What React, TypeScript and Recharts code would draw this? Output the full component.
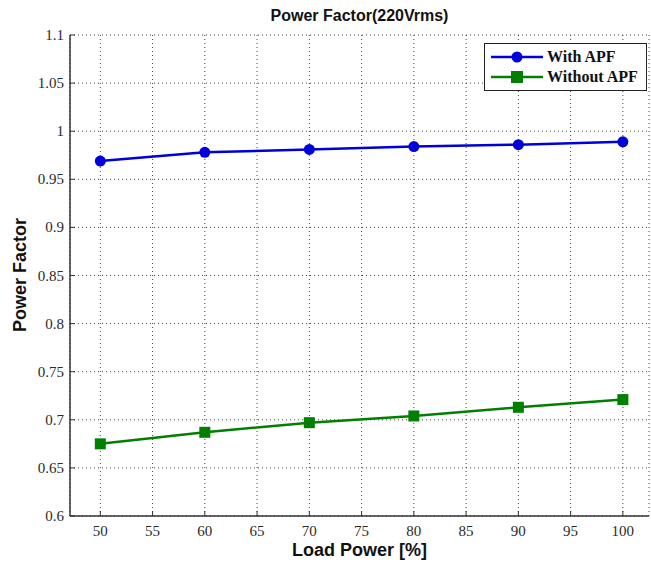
import { LineChart, Line, XAxis, YAxis, CartesianGrid } from 'recharts';

const loadPower = [50, 60, 70, 80, 90, 100];
const withApf = [0.969, 0.978, 0.981, 0.984, 0.986, 0.989];
const withoutApf = [0.675, 0.687, 0.697, 0.704, 0.713, 0.721];
const xTicks = [50, 55, 60, 65, 70, 75, 80, 85, 90, 95, 100];
const yTicks = [0.6, 0.65, 0.7, 0.75, 0.8, 0.85, 0.9, 0.95, 1, 1.05, 1.1];

const data = loadPower.map((p, i) => ({ p, withApf: withApf[i], withoutApf: withoutApf[i] }));

const BLUE = '#0000D8';
const GREEN = '#007F00';
const AXIS = '#333';
const serif = '"Liberation Serif", "Times New Roman", serif';
const sans = '"Liberation Sans", Arial, sans-serif';

const fmt = (v: number) => String(parseFloat(v.toFixed(2)));

const bottomTick = ({ x, y, payload }: any) => (
  <g>
    <line x1={x} x2={x} y1={y} y2={y - 5} stroke={AXIS} strokeWidth={1} />
    <text x={x} y={y + 20} textAnchor="middle" fontFamily="Liberation Serif" fontSize={15} fill="#2a2a2a">{payload.value}</text>
  </g>
);

const topTick = ({ x, y }: any) => (
  <line x1={x} x2={x} y1={y} y2={y + 5} stroke={AXIS} strokeWidth={1} />
);

const leftTick = ({ x, y, payload }: any) => (
  <g>
    <line x1={x} x2={x + 5} y1={y} y2={y} stroke={AXIS} strokeWidth={1} />
    <text x={x - 6} y={y + 5} textAnchor="end" fontFamily="Liberation Serif" fontSize={15} fill="#2a2a2a">{fmt(payload.value)}</text>
  </g>
);

const rightTick = ({ x, y }: any) => (
  <line x1={x} x2={x - 5} y1={y} y2={y} stroke={AXIS} strokeWidth={1} />
);

function SquareDot({ cx, cy }: any) {
  return <rect x={cx - 5.5} y={cy - 5.5} width={11} height={11} fill={GREEN} />;
}

function LegendBox() {
  const rows = [
    { label: 'With APF', color: BLUE, square: false },
    { label: 'Without APF', color: GREEN, square: true },
  ];
  return (
    <div style={{ position: 'absolute', left: 484, top: 43, border: '1px solid #222', background: '#fff', width: 163, height: 48, boxSizing: 'border-box', paddingTop: 3 }}>
      {rows.map(r => (
        <div key={r.label} style={{ display: 'flex', alignItems: 'center', height: 20 }}>
          <svg width={56} height={20} style={{ marginLeft: 4 }}>
            <line x1={2} x2={54} y1={10} y2={10} stroke={r.color} strokeWidth={2.5} />
            {r.square
              ? <rect x={22} y={4} width={12} height={12} fill={r.color} />
              : <circle cx={28} cy={10} r={5.5} fill={r.color} />}
          </svg>
          <span style={{ fontFamily: serif, fontWeight: 700, fontSize: 16, color: '#111', marginLeft: 2 }}>{r.label}</span>
        </div>
      ))}
    </div>
  );
}

export default function App() {
  return (
    <div style={{ position: 'relative', width: 651, height: 565, background: '#fff' }}>
      <style>{'body{margin:0}'}</style>
      <LineChart width={651} height={565} data={data} margin={{ top: 35, right: 2, bottom: 0, left: 0 }}>
        <CartesianGrid stroke="#444" strokeDasharray="1 3" strokeWidth={1} />
        <XAxis
          dataKey="p" type="number" domain={[47.1, 102.5]} ticks={xTicks} allowDataOverflow
          height={49} tickLine={false} tickSize={0} tickMargin={0}
          axisLine={{ stroke: AXIS, strokeWidth: 1.5 }} tick={bottomTick}
        />
        <XAxis
          xAxisId="top" orientation="top" type="number" domain={[47.1, 102.5]} ticks={xTicks} allowDataOverflow
          height={0} tickLine={false} tickSize={0} tickMargin={0}
          axisLine={{ stroke: AXIS, strokeWidth: 1.5 }} tick={topTick}
        />
        <YAxis
          type="number" domain={[0.6, 1.1]} ticks={yTicks} allowDataOverflow
          width={70} tickLine={false} tickSize={0} tickMargin={0}
          axisLine={{ stroke: AXIS, strokeWidth: 1.5 }} tick={leftTick}
        />
        <YAxis
          yAxisId="right" orientation="right" type="number" domain={[0.6, 1.1]} ticks={yTicks} allowDataOverflow
          width={0} tickLine={false} tickSize={0} tickMargin={0}
          axisLine={{ stroke: AXIS, strokeWidth: 1.5 }} tick={rightTick}
        />
        <Line
          dataKey="withApf" name="With APF" stroke={BLUE} strokeWidth={2.5}
          dot={{ r: 5.5, fill: BLUE, stroke: BLUE, strokeWidth: 0 }} isAnimationActive={false}
        />
        <Line
          dataKey="withoutApf" name="Without APF" stroke={GREEN} strokeWidth={2.5}
          dot={<SquareDot />} isAnimationActive={false}
        />
      </LineChart>
      <LegendBox />
      <div style={{ position: 'absolute', top: 7, left: 70, width: 579, textAlign: 'center', fontFamily: sans, fontWeight: 700, fontSize: 16, color: '#111' }}>
        Power Factor(220Vrms)
      </div>
      <div style={{ position: 'absolute', top: 539, left: 70, width: 579, textAlign: 'center', fontFamily: sans, fontWeight: 700, fontSize: 18, color: '#111', lineHeight: '22px' }}>
        Load Power [%]
      </div>
      <div style={{ position: 'absolute', top: 275, left: 20, width: 0, height: 0 }}>
        <div style={{ position: 'absolute', transform: 'translate(-50%, -50%) rotate(-90deg)', whiteSpace: 'nowrap', fontFamily: sans, fontWeight: 700, fontSize: 18, color: '#111' }}>
          Power Factor
        </div>
      </div>
    </div>
  );
}
